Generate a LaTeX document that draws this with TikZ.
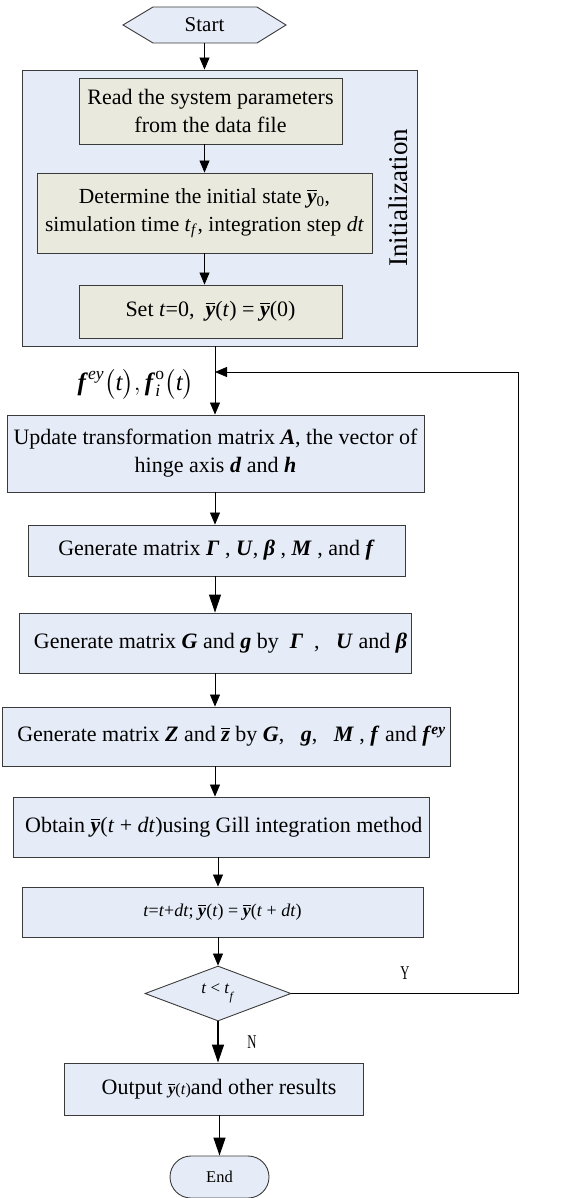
\documentclass[tikz,border=0pt]{standalone}
\usepackage{fontspec}
\usepackage{amsmath}
\usepackage{graphicx}
\setmainfont{Liberation Serif}
\usetikzlibrary{arrows.meta,shapes.geometric,shapes.misc,positioning,calc}

\definecolor{boxblue}{HTML}{E6ECF7}
\definecolor{boxsage}{HTML}{E9EADD}
\definecolor{edge}{HTML}{3A3A3A}

% bold italic letters, and a barred bold italic y
\newcommand\bi[1]{\textbf{\textit{#1}}}
\newcommand\yb{\ensuremath{\overline{\hbox{\bi{y}}}}}
\newcommand\zb{\ensuremath{\overline{\hbox{\bi{z}}}}}
\newcommand\mainsize{\fontsize{22}{28}\selectfont}

\tikzset{
  x=1pt, y=-1pt,
  procbox/.style={draw=edge, line width=0.9pt, fill=boxblue, inner sep=0pt,
    align=center, font=\mainsize},
  initbox/.style={procbox, fill=boxsage},
  flow/.style={draw=black, line width=0.8pt, -{Triangle[length=12pt,width=10pt]}},
  bigflow/.style={draw=black, line width=1.3pt, -{Triangle[length=18pt,width=12pt]}},
  yn/.style={font=\fontsize{19.5}{19.5}\selectfont},
}

\begin{document}
\begin{tikzpicture}
\useasboundingbox (0,0) rectangle (575,1198);

% start terminal (hexagon)
\draw[draw=edge, line width=0.9pt, fill=boxblue]
  (123,25) -- (153,7) -- (257,7) -- (286,25) -- (257,43) -- (153,43) -- cycle;
\node[minimum width=163pt, minimum height=36pt, inner sep=0pt,
      font=\fontsize{21}{20}\selectfont] (start) at (204.5,25) {Start};

% initialization group
\node[procbox, minimum width=395pt, minimum height=276pt] (init) at (219.5,208) {};
\node[rotate=90, font=\fontsize{27}{27}\selectfont] (initlab) at (398,198) {Initialization};

\node[initbox, minimum width=263pt, minimum height=66pt] (read) at (210.5,111)
  {Read the system parameters\\from the data file};
\node[initbox, minimum width=335pt, minimum height=80pt, font=\fontsize{21.5}{28}\selectfont] (det) at (204.5,213)
  {Determine the initial state \yb\textsubscript{0},\\
   simulation time \textit{t}\textsubscript{\textit{f}}, integration step \textit{dt}};
\node[initbox, minimum width=263pt, minimum height=53pt] (set) at (210.5,311.5)
  {Set \textit{t}=0,\ \ \yb(\textit{t}) = \yb(0)};

% main loop
\node[procbox, minimum width=417pt, minimum height=77pt] (update) at (215.5,453.5)
  {Update transformation matrix \bi{A}, the vector of\\hinge axis \bi{d} and \bi{h}};
\node[procbox, minimum width=377pt, minimum height=51pt] (gen1) at (216.5,550.5)
  {Generate matrix \bi{Γ} , \bi{U}, \bi{β} , \bi{M} , and \bi{f}};
\node[procbox, minimum width=392pt, minimum height=60pt] (gen2) at (215,643)
  {\ \ Generate matrix \bi{G} and \bi{g} by \ \bi{Γ} \ , \ \ \bi{U} and \bi{β}};
\node[procbox, minimum width=448pt, minimum height=59pt] (gen3) at (226,736.5)
  {\ \ Generate matrix \bi{Z} and \zb\ by \bi{G}, \ \ \bi{g}, \ \ \bi{M} , \bi{f} and \bi{f}\textsuperscript{\bi{ey}}};
\node[procbox, minimum width=416pt, minimum height=60pt] (obtain) at (221,827)
  {\ Obtain \yb(\textit{t} + \textit{dt})using Gill integration method};
\node[procbox, minimum width=401pt, minimum height=50pt,
      font=\fontsize{18}{22}\selectfont] (tstep) at (222.5,912)
  {\textit{t}=\textit{t}+\textit{dt}; \yb(\textit{t}) = \yb(\textit{t} + \textit{dt})};
\node[diamond, draw=edge, line width=0.9pt, fill=boxblue, inner sep=0pt,
      minimum width=146pt, minimum height=55pt, aspect=2.65,
      font=\fontsize{17}{17}\selectfont] (dec) at (218,993.5)
  {\textit{t} < \textit{t}\raisebox{-0.5ex}{\textsubscript{\textit{f}}}};
\node[procbox, minimum width=299pt, minimum height=52pt] (out) at (213.5,1089)
  {\ \ Output {\fontsize{16}{16}\selectfont\yb(\textit{t})}and other results};
\node[draw=edge, line width=0.9pt, fill=boxblue, rounded rectangle,
      minimum width=99pt, minimum height=42pt, inner sep=0pt,
      font=\fontsize{16.5}{16}\selectfont] (end) at (219.5,1177) {End};

% external input label
\node[font=\fontsize{25}{25}\selectfont] (ext) at (136,384)
  {$\text{\bi{f}}^{\text{\itshape ey}}\bigl(\text{\itshape t}\bigr),
    \text{\bi{f}}_{\text{\itshape i}}^{\text{o}}\bigl(\text{\itshape t}\bigr)$};

% column of the main loop
\coordinate (col) at (215,0);
\coordinate (join) at (215,372);
\coordinate (back) at (518,372);

% connectors
\draw[flow] (start.south) -- (start.south |- init.north);
\draw[flow] (read.south -| start.south) -- (det.north -| start.south);
\draw[flow] (det.south -| start.south) -- (set.north -| start.south);
\draw[flow] (init.south -| col) -- (update.north -| col);
\draw[flow] (update.south -| col) -- (gen1.north -| col);
\draw[bigflow, line width=0.9pt] (gen1.south -| col) -- (gen2.north -| col);
\draw[flow] (gen2.south -| col) -- (gen3.north -| col);
\draw[flow] (gen3.south -| col) -- (obtain.north -| col);
\draw[flow] (obtain.south -| dec.north) -- (tstep.north -| dec.north);
\draw[flow] (tstep.south -| dec.north) -- (dec.north);
\draw[bigflow] (dec.south) -- (out.north -| dec.south);
\draw[bigflow] (out.south -| end.north) -- (end.north);
\draw[flow] (dec.east) -- (dec.east -| back) -- (back) -- (join);

% branch labels
\node[yn] (ylab) at (405,973) {\scalebox{0.65}[1]{Y}};
\node[yn] (nlab) at (252,1042) {\scalebox{0.65}[1]{N}};
\end{tikzpicture}
\end{document}
